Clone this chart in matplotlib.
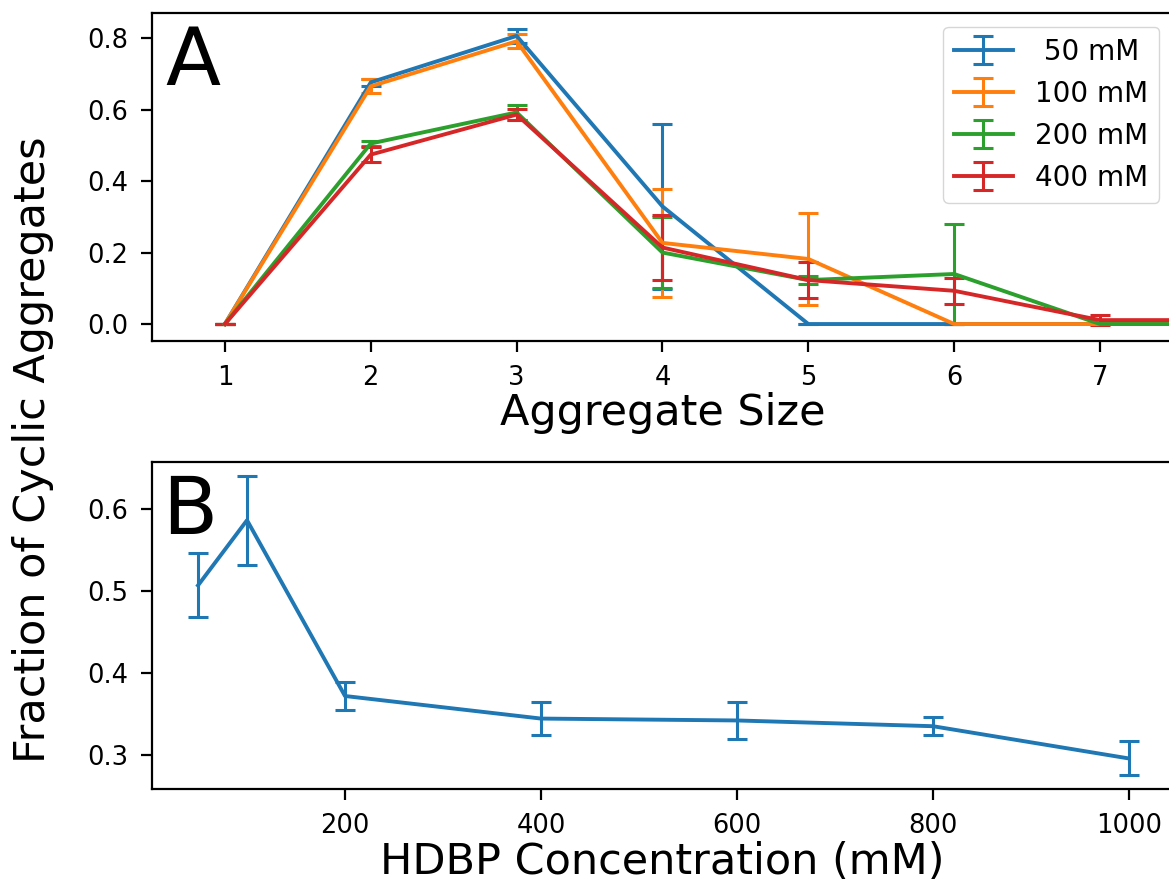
import numpy as np
import matplotlib
matplotlib.use("Agg")
import matplotlib.pyplot as plt

# panel A: fraction of cyclic aggregates vs aggregate size
sizes = [1, 2, 3, 4, 5, 6, 7, 8]
frac_50 = [0, 0.676, 0.806, 0.329, 0, 0, 0, 0]
err_50 = [0, 0.010, 0.020, 0.231, 0, 0, 0, 0]
frac_100 = [0, 0.665, 0.791, 0.227, 0.182, 0, 0, 0]
err_100 = [0, 0.020, 0.019, 0.151, 0.130, 0, 0, 0]
frac_200 = [0, 0.505, 0.592, 0.200, 0.123, 0.140, 0.0, 0.0]
err_200 = [0, 0.008, 0.022, 0.100, 0.012, 0.140, 0, 0]
frac_400 = [0, 0.474, 0.586, 0.214, 0.123, 0.093, 0.011, 0.011]
err_400 = [0, 0.020, 0.016, 0.090, 0.050, 0.036, 0.015, 0]
labels = [" 50 mM", "100 mM", "200 mM", "400 mM"]

# panel B: fraction vs concentration
conc = [50, 100, 200, 400, 600, 800, 1000]
frac_conc = [0.5066, 0.586, 0.3718, 0.3443, 0.342, 0.335, 0.2957]
err_conc = [0.039, 0.054, 0.0168, 0.0205, 0.023, 0.011, 0.0207]

plt.rcParams["axes.linewidth"] = 1.6
plt.rcParams["xtick.major.width"] = 1.6
plt.rcParams["ytick.major.width"] = 1.6
plt.rcParams["xtick.major.size"] = 8
plt.rcParams["ytick.major.size"] = 8
plt.rcParams["xtick.major.pad"] = 9
plt.rcParams["ytick.major.pad"] = 9

fig = plt.figure(figsize=(11.69, 8.86), dpi=100)
ax1 = fig.add_axes([0.130, 0.6151, 0.8734, 0.3702])
ax2 = fig.add_axes([0.130, 0.1095, 0.8734, 0.3691])

series = [(frac_50, err_50), (frac_100, err_100), (frac_200, err_200), (frac_400, err_400)]
for (f, e), lab in zip(series, labels):
    ax1.errorbar(sizes, f, yerr=e, label=lab, lw=2.8, elinewidth=2.2,
                 capsize=7.5, capthick=2.2)
ax1.set_xlim(0.5, 7.5)
ax1.set_ylim(-0.0475, 0.87)
ax1.set_xticks([1, 2, 3, 4, 5, 6, 7])
ax1.set_yticks([0.0, 0.2, 0.4, 0.6, 0.8])
ax1.set_yticklabels(["0.0", "0.2", "0.4", "0.6", "0.8"])
ax1.tick_params(labelsize=18.5)
ax1.set_xlabel("Aggregate Size", fontsize=31, labelpad=1)
ax1.legend(fontsize=20, loc="upper right", handlelength=2.1)
ax1.text(0.013, 0.78, "A", transform=ax1.transAxes, fontsize=58, va="baseline", ha="left")

ax2.errorbar(conc, frac_conc, yerr=err_conc, color="#1f77b4", lw=2.8, elinewidth=2.2,
             capsize=7.5, capthick=2.2)
ax2.set_xlim(3, 1045)
ax2.set_ylim(0.2585, 0.657)
ax2.set_xticks([200, 400, 600, 800, 1000])
ax2.set_yticks([0.3, 0.4, 0.5, 0.6])
ax2.tick_params(labelsize=18.5)
ax2.set_xlabel("HDBP Concentration (mM)", fontsize=31, labelpad=2)
ax2.text(0.010, 0.78, "B", transform=ax2.transAxes, fontsize=58, va="baseline", ha="left")

fig.text(0.028, 0.492, "Fraction of Cyclic Aggregates", rotation=90, fontsize=31,
         ha="center", va="center")

fig.savefig("out.png", dpi=100)
